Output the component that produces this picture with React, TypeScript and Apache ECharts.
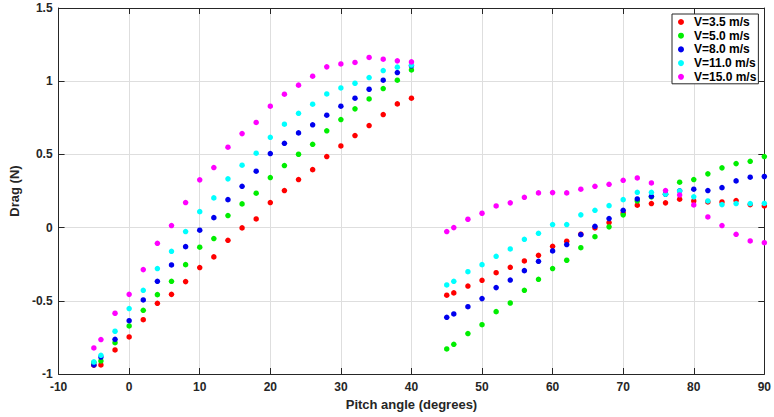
import React, { useEffect, useRef } from "react";
import * as echarts from "echarts";

const pitch = [
  -5, -4, -2, 0, 2, 4, 6, 8, 10, 12, 14, 16, 18, 20, 22, 24, 26, 28, 30, 32, 34, 36, 38, 40,
  45, 46, 48, 50, 52, 54, 56, 58, 60, 62, 64, 66, 68, 70, 72, 74, 76, 78, 80, 82, 84, 86, 88, 90,
];

const v35 = [
  -0.94, -0.938, -0.836, -0.747, -0.629, -0.517, -0.456, -0.369, -0.273, -0.2, -0.087, -0.002,
  0.059, 0.171, 0.253, 0.328, 0.396, 0.485, 0.558, 0.629, 0.697, 0.772, 0.845, 0.884,
  -0.462, -0.446, -0.399, -0.36, -0.308, -0.271, -0.228, -0.189, -0.128, -0.093, -0.045, -0.002,
  0.034, 0.1, 0.153, 0.164, 0.169, 0.194, 0.182, 0.175, 0.175, 0.185, 0.157, 0.148,
];

const v50 = [
  -0.92, -0.911, -0.786, -0.672, -0.565, -0.458, -0.367, -0.253, -0.134, -0.075, 0.082, 0.162,
  0.235, 0.342, 0.424, 0.501, 0.569, 0.661, 0.738, 0.811, 0.879, 0.95, 1.007, 1.077,
  -0.829, -0.797, -0.724, -0.663, -0.574, -0.515, -0.428, -0.353, -0.28, -0.223, -0.137, -0.062,
  0.005, 0.087, 0.182, 0.21, 0.23, 0.31, 0.328, 0.367, 0.408, 0.437, 0.453, 0.485,
];

const v80 = [
  -0.938, -0.884, -0.763, -0.636, -0.494, -0.367, -0.255, -0.13, -0.018, 0.068, 0.191, 0.282,
  0.385, 0.506, 0.576, 0.647, 0.702, 0.768, 0.829, 0.884, 0.945, 1.007, 1.059, 1.105,
  -0.613, -0.59, -0.54, -0.485, -0.41, -0.358, -0.294, -0.23, -0.159, -0.116, -0.048, 0.009,
  0.062, 0.118, 0.196, 0.214, 0.228, 0.251, 0.262, 0.253, 0.273, 0.319, 0.344, 0.349,
];

const v110 = [
  -0.918, -0.872, -0.708, -0.553, -0.428, -0.28, -0.162, -0.027, 0.109, 0.203, 0.333, 0.426,
  0.508, 0.617, 0.706, 0.781, 0.843, 0.913, 0.954, 0.986, 1.025, 1.073, 1.096, 1.11,
  -0.392, -0.367, -0.301, -0.253, -0.196, -0.146, -0.08, -0.039, 0.021, 0.021, 0.087, 0.118,
  0.15, 0.191, 0.241, 0.241, 0.228, 0.25, 0.21, 0.182, 0.157, 0.164, 0.164, 0.166,
];

const v150 = [
  -0.822, -0.765, -0.585, -0.456, -0.287, -0.107, 0.014, 0.171, 0.326, 0.41, 0.549, 0.642,
  0.718, 0.829, 0.911, 0.973, 1.034, 1.098, 1.118, 1.128, 1.162, 1.15, 1.139, 1.132,
  -0.027, 0.0, 0.057, 0.098, 0.148, 0.169, 0.207, 0.237, 0.239, 0.237, 0.262, 0.282,
  0.296, 0.323, 0.339, 0.305, 0.253, 0.223, 0.155, 0.073, 0.014, -0.046, -0.091, -0.103,
];

const seriesNames = ["V=3.5 m/s", "V=5.0 m/s", "V=8.0 m/s", "V=11.0 m/s", "V=15.0 m/s"];
const seriesValues = [v35, v50, v80, v110, v150];
const seriesColors = ["#ff0000", "#00ee00", "#0000ee", "#00ffff", "#ff00ff"];

const FONT = "Liberation Sans, Arial, sans-serif";
const INK = "#262626";

export default function App() {
  const ref = useRef<HTMLDivElement>(null);

  useEffect(() => {
    if (!ref.current) return;
    const chart = echarts.init(ref.current, undefined, { renderer: "svg" });
    const frameAxis = {
      type: "value" as const,
      axisLine: { show: true, onZero: false, lineStyle: { color: INK, width: 1 } },
      axisTick: { show: true, inside: true, length: 6, lineStyle: { color: INK } },
      splitLine: { show: false },
    };
    chart.setOption({
      animation: false,
      backgroundColor: "#ffffff",
      grid: { left: 54, right: 5, top: 8, bottom: 43, containLabel: false },
      legend: {
        orient: "vertical",
        left: 672,
        top: 14,
        padding: [2, 2, 1, 6],
        itemGap: 1.7,
        itemWidth: 16,
        itemHeight: 6,
        icon: "circle",
        backgroundColor: "#ffffff",
        borderColor: INK,
        borderWidth: 1,
        borderRadius: 0,
        textStyle: {
          fontFamily: FONT,
          fontWeight: "bold",
          fontSize: 12,
          lineHeight: 12,
          color: "#000000",
        },
        data: seriesNames,
      },
      xAxis: [
        {
          ...frameAxis,
          position: "bottom",
          min: -10,
          max: 90,
          interval: 10,
          name: "Pitch angle (degrees)",
          nameLocation: "middle",
          nameGap: 22,
          nameTextStyle: { fontFamily: FONT, fontWeight: "bold", fontSize: 13, color: INK },
          axisLabel: { show: true, margin: 7, fontFamily: FONT, fontWeight: "bold", fontSize: 12, color: INK },
          splitLine: { show: true, lineStyle: { color: "#dedede", width: 1 } },
        },
        {
          ...frameAxis,
          position: "top",
          min: -10,
          max: 90,
          interval: 10,
          axisLabel: { show: false },
        },
      ],
      yAxis: [
        {
          ...frameAxis,
          position: "left",
          min: -1,
          max: 1.5,
          interval: 0.5,
          name: "Drag (N)",
          nameLocation: "middle",
          nameGap: 29,
          nameTextStyle: { fontFamily: FONT, fontWeight: "bold", fontSize: 13, color: INK },
          axisLabel: { show: true, margin: 6, fontFamily: FONT, fontWeight: "bold", fontSize: 12, color: INK },
          splitLine: { show: true, lineStyle: { color: "#dedede", width: 1 } },
        },
        {
          ...frameAxis,
          position: "right",
          min: -1,
          max: 1.5,
          interval: 0.5,
          axisLabel: { show: false },
        },
      ],
      series: seriesNames.map((name, i) => ({
        name,
        type: "scatter",
        xAxisIndex: 0,
        yAxisIndex: 0,
        symbol: "circle",
        symbolSize: 5.5,
        clip: false,
        itemStyle: { color: seriesColors[i], opacity: 1 },
        data: pitch.map((x, j) => [x, seriesValues[i][j]]),
      })),
    });
    return () => chart.dispose();
  }, []);

  return (
    <div
      ref={ref}
      style={{ position: "absolute", left: 0, top: 0, width: 774, height: 417, background: "#fff" }}
    />
  );
}
